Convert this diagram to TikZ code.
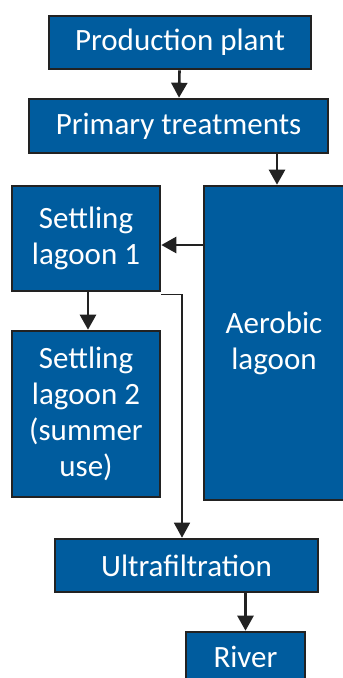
\documentclass[tikz,border=0pt]{standalone}
\usepackage{fontspec}
\setmainfont{Carlito}
\usetikzlibrary{arrows.meta}
\definecolor{boxblue}{RGB}{0,92,158}
\definecolor{edgegray}{RGB}{34,34,34}

\begin{document}
\begin{tikzpicture}[x=1pt,y=-1pt,
                    stage/.style={draw=edgegray,line width=2.6pt,fill=boxblue,
                      text=white,font=\fontsize{31}{36}\selectfont,
                      align=center,inner sep=0pt},
                    flow/.style={-{Triangle[length=15pt,width=16pt]},draw=edgegray,line width=2.6pt}]

  \useasboundingbox (0,0) rectangle (343,678);

  \node[stage,minimum width=262pt,minimum height=53pt]  (prod)  at (180,42.5)  {Production plant};
  \node[stage,minimum width=299pt,minimum height=54pt]  (prim)  at (178.5,126) {Primary treatments};
  \node[stage,minimum width=140pt,minimum height=314pt] (aer)   at (274,343)   {Aerobic\\lagoon};
  \node[stage,minimum width=148pt,minimum height=105pt] (set1)  at (86,238.5)  {Settling\\lagoon 1};
  \node[stage,minimum width=148pt,minimum height=166pt] (set2)  at (86,414)    {Settling\\lagoon 2\\(summer\\use)};
  \node[stage,minimum width=263pt,minimum height=53pt]  (uf)    at (186.5,565.5) {Ultrafiltration};
  \node[stage,minimum width=119pt,minimum height=50pt]  (river) at (245.5,657)  {River};

  \coordinate (back) at (0,245);

  \draw[flow] (prod) -- (prim);
  \draw[flow] ([xshift=3pt]prim.south -| aer.north) -- ([xshift=3pt]aer.north);
  \draw[flow] (aer.west |- back) -- (set1.east |- back);
  \draw[flow] ([xshift=2pt]set1.south) -- ([xshift=2pt]set1.south |- set2.north);
  \draw[flow] (uf.south -| river.north) -- (river.north);
  \draw[flow,line width=1.5pt] ([yshift=-2pt]set1.south east) -| ([xshift=-4.5pt]uf.north);

\end{tikzpicture}
\end{document}
